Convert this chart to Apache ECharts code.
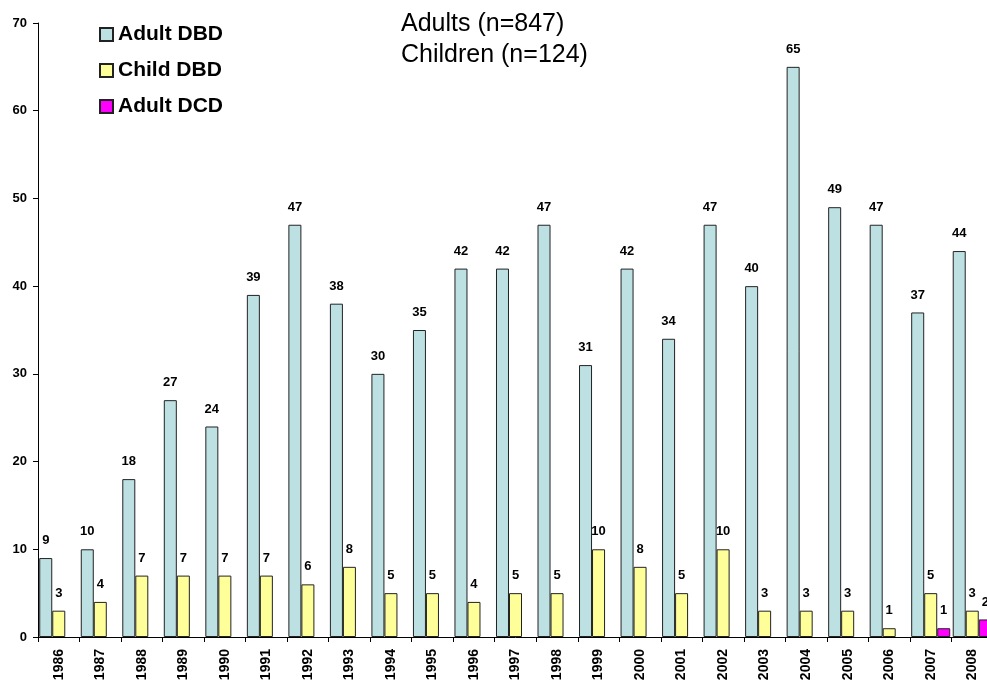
<!DOCTYPE html>
<html>
<head>
<meta charset="utf-8">
<script src="https://cdn.jsdelivr.net/npm/echarts@6/dist/echarts.min.js"></script>
<style>
html,body{margin:0;padding:0;background:#fff;overflow:hidden;width:987px;height:684px;}
#chart{width:993px;height:684px;}
</style>
</head>
<body>
<div id="chart"></div>
<script>
const years = ['1986','1987','1988','1989','1990','1991','1992','1993','1994','1995','1996','1997','1998','1999','2000','2001','2002','2003','2004','2005','2006','2007','2008'];
const adultDBD = [9,10,18,27,24,39,47,38,30,35,42,42,47,31,42,34,47,40,65,49,47,37,44];
const childDBD = [3,4,7,7,7,7,6,8,5,5,4,5,5,10,8,5,10,3,3,3,1,5,3];
const adultDCD = [null,null,null,null,null,null,null,null,null,null,null,null,null,null,null,null,null,null,null,null,null,1,2];
const yTicks = {min:0, max:70, interval:10};

const FONT = 'Arial, "Liberation Sans", sans-serif';
const chart = echarts.init(document.getElementById('chart'), null, {renderer:'canvas'});
const labelCfg = {show:true, position:'top', distance:11, fontFamily:FONT, fontWeight:'bold', fontSize:13, color:'#000'};
function bar(name, data, color){
  return {name, type:'bar', data, barGap:'0%', barCategoryGap:'6%',
    itemStyle:{color, borderColor:'#222', borderWidth:1},
    label:labelCfg, emphasis:{disabled:true}};
}
chart.setOption({
  animation:false,
  backgroundColor:'#fff',
  title:{text:'Adults (n=847)\nChildren (n=124)', left:396, top:4,
    textStyle:{fontFamily:FONT, fontWeight:'normal', fontSize:25, lineHeight:31, color:'#000'}},
  legend:{orient:'vertical', left:94, top:19, itemWidth:13, itemHeight:13, itemGap:15,
    icon:'rect',
    textStyle:{fontFamily:FONT, fontWeight:'bold', fontSize:21, color:'#000', lineHeight:20},
    data:['Adult DBD','Child DBD','Adult DCD']},
  grid:{left:38, top:23, bottom:47, right:0, containLabel:false},
  xAxis:{type:'category', data:years,
    axisLine:{lineStyle:{color:'#000', width:1}},
    axisTick:{show:true, length:5, lineStyle:{color:'#000'}},
    axisLabel:{rotate:90, margin:12, fontFamily:FONT, fontWeight:'bold', fontSize:14, color:'#000', interval:0}},
  yAxis:{type:'value', min:yTicks.min, max:yTicks.max, interval:yTicks.interval,
    axisLine:{show:true, lineStyle:{color:'#000', width:1}},
    axisTick:{show:true, length:5, lineStyle:{color:'#000'}},
    splitLine:{show:false},
    axisLabel:{margin:11, fontFamily:FONT, fontWeight:'bold', fontSize:13, color:'#000'}},
  series:[
    bar('Adult DBD', adultDBD, '#BDE1E3'),
    bar('Child DBD', childDBD, '#FFFF99'),
    bar('Adult DCD', adultDCD, '#FF00FF')
  ]
});
</script>
</body>
</html>
